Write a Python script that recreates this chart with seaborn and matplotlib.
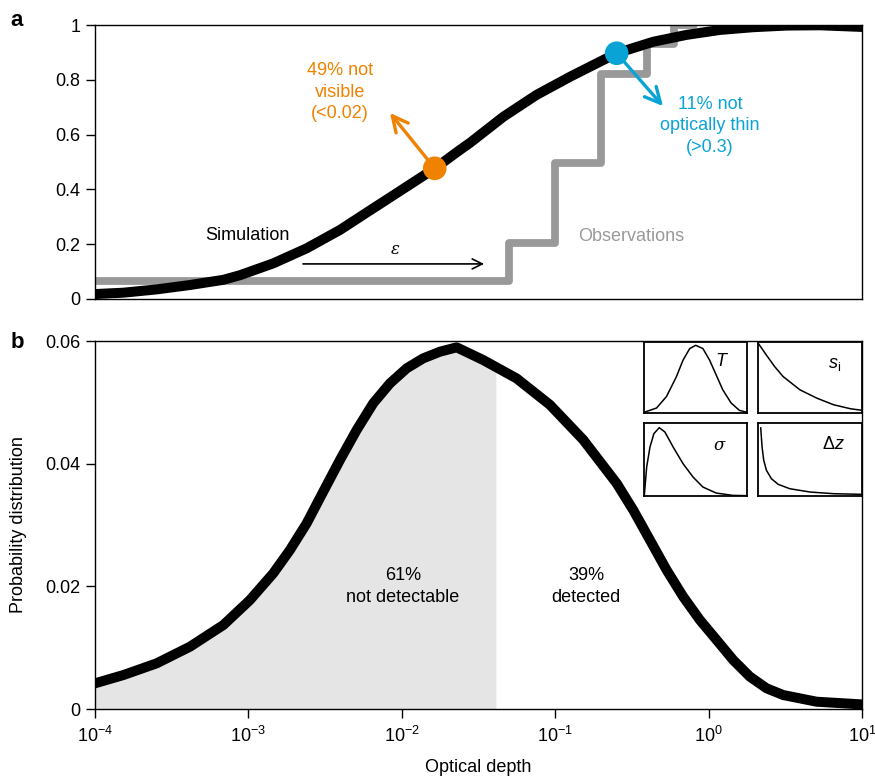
import numpy as np
import pandas as pd
import matplotlib
matplotlib.use("Agg")
import matplotlib.pyplot as plt
import seaborn as sns

# ---------------- data ----------------
# Panel a: simulated cumulative distribution (log10 optical depth, fraction)
cdf_logx = [-4.0, -3.815, -3.598, -3.381, -3.163, -3.054, -2.838, -2.620, -2.403, -2.186,
            -1.968, -1.784, -1.621, -1.555, -1.338, -1.121, -0.903, -0.599, -0.360, -0.143,
            0.074, 0.291, 0.509, 0.726, 1.0]
cdf_vals = [0.018, 0.023, 0.035, 0.051, 0.070, 0.087, 0.130, 0.185, 0.252, 0.331,
            0.410, 0.477, 0.544, 0.570, 0.665, 0.745, 0.811, 0.897, 0.939, 0.964,
            0.982, 0.992, 0.998, 0.999, 0.993]

# Panel a: observations (step function)
obs_edges = [1e-4, 0.05, 0.1, 0.2, 0.4, 0.6, 0.8]
obs_vals = [0.065, 0.205, 0.495, 0.82, 0.93, 1.0, 1.0]

# Highlighted points
pt_orange = (0.0164, 0.477)
pt_blue = (0.252, 0.897)

# Panel b: probability distribution
pdf_logx = [-4.0, -3.815, -3.598, -3.381, -3.163, -2.990, -2.838, -2.729, -2.620, -2.512,
            -2.403, -2.294, -2.186, -2.077, -1.968, -1.860, -1.751, -1.642, -1.469, -1.251,
            -1.034, -0.817, -0.599, -0.491, -0.382, -0.273, -0.165, -0.056, 0.053, 0.161,
            0.270, 0.379, 0.487, 0.705, 1.0]
pdf_vals = [0.00419, 0.00554, 0.00745, 0.01016, 0.0137, 0.01777, 0.02212, 0.02593, 0.03028, 0.03544,
            0.0406, 0.0455, 0.04985, 0.0531, 0.05555, 0.05718, 0.05826, 0.05897, 0.0569, 0.0539,
            0.0496, 0.0439, 0.0368, 0.03245, 0.02756, 0.02266, 0.01831, 0.01451, 0.01125, 0.00799,
            0.00527, 0.00337, 0.00228, 0.00119, 0.00075]
detect_cut = 0.0411

# Insets (normalised shapes)
T_x = [0.0, 0.122, 0.219, 0.315, 0.379, 0.444, 0.502, 0.572, 0.637, 0.701, 0.765, 0.846, 0.926, 1.0]
T_y = [0.009, 0.07, 0.233, 0.512, 0.744, 0.907, 0.953, 0.907, 0.744, 0.535, 0.326, 0.14, 0.037, 0.009]
si_x = [0.0, 0.081, 0.161, 0.242, 0.403, 0.565, 0.726, 0.887, 1.0]
si_y = [0.986, 0.814, 0.651, 0.512, 0.326, 0.209, 0.116, 0.060, 0.037]
sg_x = [0.003, 0.026, 0.058, 0.096, 0.148, 0.203, 0.283, 0.379, 0.476, 0.572, 0.701, 0.862, 1.0]
sg_y = [0.009, 0.397, 0.671, 0.854, 0.936, 0.877, 0.671, 0.443, 0.260, 0.123, 0.041, 0.009, 0.005]
dz_x = [0.026, 0.039, 0.055, 0.081, 0.129, 0.194, 0.306, 0.5, 0.726, 1.0]
dz_y = [0.936, 0.671, 0.489, 0.352, 0.237, 0.160, 0.100, 0.055, 0.032, 0.023]

a_yticks = [0, 0.2, 0.4, 0.6, 0.8, 1.0]
a_yticklabels = ["0", "0.2", "0.4", "0.6", "0.8", "1"]
b_yticks = [0, 0.02, 0.04, 0.06]
b_yticklabels = ["0", "0.02", "0.04", "0.06"]
x_ticks = [1e-4, 1e-3, 1e-2, 1e-1, 1e0, 1e1]

ORANGE = "#EF8200"
BLUE = "#0AA3D6"
GRAY = "#999999"
FILL = "#E5E5E5"

# ---------------- style ----------------
sns.set_theme(style="ticks")
plt.rcParams["font.family"] = ["Liberation Sans", "DejaVu Sans"]
plt.rcParams["mathtext.fontset"] = "custom"
plt.rcParams["mathtext.rm"] = "Liberation Sans"
plt.rcParams["mathtext.it"] = "Liberation Sans:italic"
plt.rcParams["axes.linewidth"] = 1.0
plt.rcParams["axes.edgecolor"] = "black"
for k in ["text.color", "axes.labelcolor", "xtick.color", "ytick.color"]:
    plt.rcParams[k] = "black"

fig = plt.figure(figsize=(8.75, 7.77), dpi=100)
axA = fig.add_axes([0.1086, 0.6152, 0.8764, 0.3526])
axB = fig.add_axes([0.1086, 0.0875, 0.8764, 0.4736])

FS = 13

# ---------------- panel a ----------------
df_cdf = pd.DataFrame({"x": 10 ** np.array(cdf_logx), "y": cdf_vals})
df_obs = pd.DataFrame({"x": obs_edges, "y": obs_vals})
sns.lineplot(data=df_obs, x="x", y="y", ax=axA, color=GRAY, lw=5.6,
             drawstyle="steps-post", estimator=None, sort=False)
sns.lineplot(data=df_cdf, x="x", y="y", ax=axA, color="black", lw=7.2,
             estimator=None, sort=False, solid_joinstyle="round")
axA.set_xscale("log")
axA.set_xlim(1e-4, 1e1)
axA.set_ylim(0, 1)
axA.set_yticks(a_yticks)
axA.set_yticklabels(a_yticklabels)
axA.tick_params(axis="x", which="both", bottom=False, labelbottom=False)
axA.tick_params(axis="y", labelsize=FS, length=6.5, width=1, pad=4)

# points and arrows
axA.annotate("", xy=(0.00838, 0.679), xytext=pt_orange,
             arrowprops=dict(arrowstyle="->", lw=2.4, color=ORANGE,
                             mutation_scale=28, shrinkA=0, shrinkB=0), zorder=4)
axA.annotate("", xy=(0.505, 0.704), xytext=pt_blue,
             arrowprops=dict(arrowstyle="->", lw=2.4, color=BLUE,
                             mutation_scale=28, shrinkA=0, shrinkB=0), zorder=4)
df_pts = pd.DataFrame({"x": [pt_orange[0], pt_blue[0]], "y": [pt_orange[1], pt_blue[1]],
                       "k": ["o", "b"]})
sns.scatterplot(data=df_pts, x="x", y="y", hue="k", palette={"o": ORANGE, "b": BLUE},
                s=290, ax=axA, legend=False, edgecolor="none", zorder=5)

axA.text(0.00395, 0.755, "49% not\nvisible\n(<0.02)", color=ORANGE, fontsize=FS,
         ha="center", va="center", linespacing=1.35)
axA.text(1.02, 0.632, "11% not\noptically thin\n(>0.3)", color=BLUE, fontsize=FS,
         ha="center", va="center", linespacing=1.35)
axA.text(0.00099, 0.23, "Simulation", color="black", fontsize=FS, ha="center", va="center")
axA.text(0.312, 0.228, "Observations", color=GRAY, fontsize=FS, ha="center", va="center")
axA.annotate("", xy=(0.0344, 0.128), xytext=(0.00227, 0.128),
             arrowprops=dict(arrowstyle="->", lw=1.2, color="black",
                             mutation_scale=18, shrinkA=0, shrinkB=0))
axA.text(0.00904, 0.18, "ε", fontsize=12, ha="center", va="center",
         family="DejaVu Serif", style="italic")
axA.set_xlabel("")
axA.set_ylabel("")

# ---------------- panel b ----------------
px = 10 ** np.array(pdf_logx)
df_pdf = pd.DataFrame({"x": px, "y": pdf_vals})
cut_val = np.interp(np.log10(detect_cut), pdf_logx, pdf_vals)
mask = px < detect_cut
fx = np.concatenate([px[mask], [detect_cut]])
fy = np.concatenate([np.array(pdf_vals)[mask], [cut_val]])
axB.fill_between(fx, 0, fy, color=FILL, lw=0, zorder=0)
sns.lineplot(data=df_pdf, x="x", y="y", ax=axB, color="black", lw=7.2,
             estimator=None, sort=False, solid_joinstyle="round")
axB.set_xscale("log")
axB.set_xlim(1e-4, 1e1)
axB.set_ylim(0, 0.06)
axB.set_xticks(x_ticks)
axB.xaxis.set_minor_locator(matplotlib.ticker.NullLocator())
axB.set_yticks(b_yticks)
axB.set_yticklabels(b_yticklabels)
axB.tick_params(axis="both", labelsize=FS, length=6.5, width=1, pad=4)
axB.tick_params(axis="x", pad=6)
axB.set_xlabel("Optical depth", fontsize=FS, labelpad=9)
axB.set_ylabel("Probability distribution", fontsize=FS, labelpad=13)
axB.text(0.0102, 0.0200, "61%\nnot detectable", fontsize=FS, ha="center", va="center",
         linespacing=1.35)
axB.text(0.159, 0.0200, "39%\ndetected", fontsize=FS, ha="center", va="center",
         linespacing=1.35)

# panel letters
fig.text(0.012, 0.974, "a", fontsize=16, fontweight="bold", va="center")
fig.text(0.012, 0.559, "b", fontsize=16, fontweight="bold", va="center")

# ---------------- insets ----------------
def inset(rect, xs, ys, label, lx, ly, size=FS, **kw):
    ax = fig.add_axes(rect)
    sns.lineplot(x=xs, y=ys, ax=ax, color="black", lw=1.1, estimator=None, sort=False,
                 solid_joinstyle="round")
    ax.set_xlim(0, 1)
    ax.set_ylim(0, 1)
    ax.set_xticks([])
    ax.set_yticks([])
    ax.set_facecolor("white")
    for s in ax.spines.values():
        s.set_linewidth(1.3)
        s.set_color("black")
    ax.text(lx, ly, label, transform=ax.transAxes, fontsize=size, ha="center", va="center", **kw)
    return ax

inset([0.736, 0.4685, 0.1177, 0.0914], T_x, T_y, "T", 0.75, 0.72, style="italic")
inset([0.8663, 0.4685, 0.1189, 0.0914], si_x, si_y, r"$s_\mathrm{i}$", 0.74, 0.68)
inset([0.736, 0.3616, 0.1177, 0.094], sg_x, sg_y, "σ", 0.733, 0.69, size=12,
      family="DejaVu Serif", style="italic")
inset([0.8663, 0.3616, 0.1189, 0.094], dz_x, dz_y, r"$\Delta z$", 0.726, 0.70)

fig.savefig("out.png", dpi=100)
